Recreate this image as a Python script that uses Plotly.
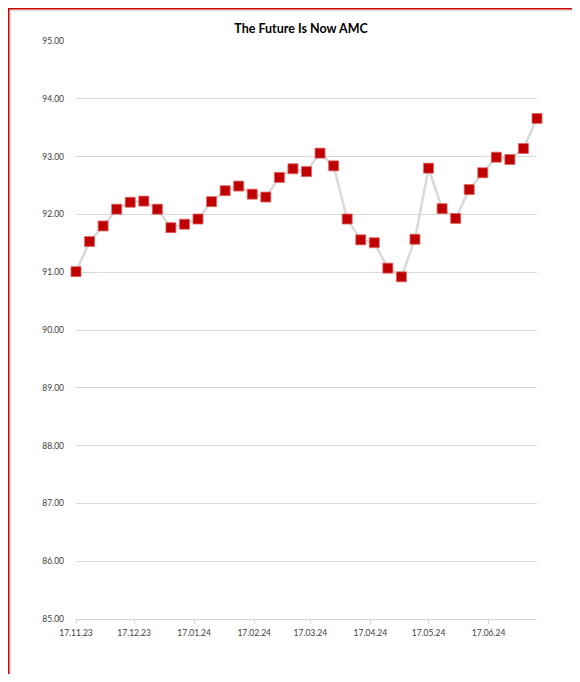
import plotly.graph_objects as go
import pandas as pd

title = "The Future Is Now AMC"
start_date = "2023-11-17"
n_points = 35
dates = pd.date_range(start_date, periods=n_points, freq="7D")
values = [91.01, 91.53, 91.80, 92.09, 92.21, 92.23, 92.09, 91.77, 91.83, 91.92,
          92.22, 92.41, 92.49, 92.35, 92.30, 92.64, 92.79, 92.74, 93.06, 92.84,
          91.92, 91.56, 91.51, 91.07, 90.92, 91.57, 92.80, 92.10, 91.93, 92.43,
          92.72, 92.99, 92.95, 93.14, 93.66]
tick_dates = ["2023-11-17", "2023-12-17", "2024-01-17", "2024-02-17",
              "2024-03-17", "2024-04-17", "2024-05-17", "2024-06-17"]
tick_labels = ["17.11.23", "17.12.23", "17.01.24", "17.02.24",
               "17.03.24", "17.04.24", "17.05.24", "17.06.24"]
y_min, y_max = 85, 95

FONT = "Lato, sans-serif"
OFF = 8  # page body margin

fig = go.Figure()
fig.add_trace(go.Scatter(
    x=dates, y=values, mode="lines+markers",
    line=dict(color="#d9d9d9", width=2.5),
    marker=dict(symbol="square", size=10, color="#c00000",
                line=dict(color="#e06666", width=0.8)),
    cliponaxis=False, hoverinfo="x+y", showlegend=False,
))

W, H = 580 - 2 * OFF, 682 - 2 * OFF
L, T = 76 - OFF, 41 - OFF
R = W - (537 - OFF)
B = H - (619 - OFF)
pw, ph = W - L - R, H - T - B

def px_to_paper_x(px):
    return (px - OFF - L) / pw

def px_to_paper_y(py):
    return 1 - (py - OFF - T) / ph

fig.update_layout(
    width=W, height=H,
    margin=dict(l=L, r=R, t=T, b=B),
    paper_bgcolor="white", plot_bgcolor="white",
    title=dict(text="<b>" + title + "</b>", x=px_to_paper_x(301), xref="paper",
               xanchor="center", y=1 - (29 - OFF) / H, yanchor="middle",
               font=dict(family=FONT, size=12.5, color="#000000")),
    xaxis=dict(
        type="date",
        range=[dates[0], dates[-1]],
        tickvals=tick_dates, ticktext=tick_labels,
        showgrid=False, showline=True, linecolor="#d9d9d9", linewidth=1,
        ticks="outside", ticklen=4, tickcolor="#d9d9d9",
        ticklabelstandoff=2,
        tickfont=dict(family=FONT, size=8.5, color="#404040"),
        zeroline=False, fixedrange=True,
    ),
    yaxis=dict(
        range=[y_min, y_max], dtick=1, tickformat=".2f",
        showgrid=True, gridcolor="#d9d9d9", gridwidth=1,
        showline=False, zeroline=False, ticks="", ticklabelstandoff=11,
        tickfont=dict(family=FONT, size=8.5, color="#404040"),
        fixedrange=True,
    ),
    shapes=[
        dict(type="rect", xref="paper", yref="paper",
             x0=px_to_paper_x(8.5), x1=px_to_paper_x(700),
             y0=px_to_paper_y(800), y1=px_to_paper_y(8.5),
             line=dict(color="#cc0000", width=2), fillcolor="rgba(0,0,0,0)",
             layer="below"),
        dict(type="rect", xref="paper", yref="paper",
             x0=px_to_paper_x(10.5), x1=px_to_paper_x(700),
             y0=px_to_paper_y(800), y1=px_to_paper_y(10.5),
             line=dict(color="#d0d0d0", width=0.8), fillcolor="rgba(0,0,0,0)",
             layer="below"),
    ],
)

fig.write_html("out.html")
